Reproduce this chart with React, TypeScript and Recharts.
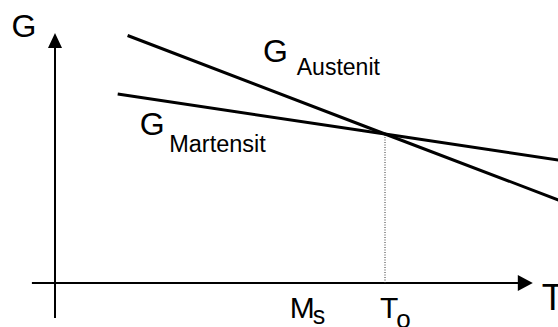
import React from "react";
import { LineChart, Line, XAxis, YAxis, ReferenceLine, ReferenceDot } from "recharts";

// Schematic: free energy G (arbitrary units) vs temperature T (arbitrary units)
const austenitT = [2.2, 10, 15.3];
const austenitG = [9.9, 5.96, 3.3];
const martensitT = [1.9, 10, 15.3];
const martensitG = [7.56, 5.96, 4.91];
const tickValues = [7.45, 10]; // Ms, To
const tickMain = ["M", "T"];
const tickSub = ["s", "o"];
const seriesNames = ["Austenit", "Martensit"];
const axisNames = ["G", "T"];

const austenitData = austenitT.map((t, i) => ({ t, g: austenitG[i] }));
const martensitData = martensitT.map((t, i) => ({ t, g: martensitG[i] }));

const FONT = "'Liberation Sans', Arial, sans-serif";

const X_DOMAIN: [number, number] = [-55 / 33, 503 / 33];
const Y_DOMAIN: [number, number] = [-44 / 25, 283 / 25];

function textMark(
  key: string,
  x: number,
  y: number,
  dx: number,
  dy: number,
  render: (px: number, py: number) => React.ReactNode
) {
  return (
    <ReferenceDot
      key={key}
      x={x}
      y={y}
      r={0}
      ifOverflow="visible"
      isFront
      shape={(p: any) => <g>{render(p.cx + dx, p.cy + dy)}</g>}
    />
  );
}

export default function App() {
  return (
    <div style={{ position: "absolute", left: 0, top: 0, width: 558, height: 327, background: "#fff" }}>
      <LineChart width={558} height={327} margin={{ top: 0, right: 0, bottom: 0, left: 0 }}>
        <XAxis type="number" dataKey="t" domain={X_DOMAIN} allowDataOverflow hide />
        <YAxis type="number" dataKey="g" domain={Y_DOMAIN} allowDataOverflow hide />

        {/* axes */}
        <ReferenceLine
          segment={[{ x: 0, y: -1.4 }, { x: 0, y: 9.4 }]}
          stroke="#000"
          strokeWidth={2}
          ifOverflow="visible"
        />
        <ReferenceLine
          segment={[{ x: -0.7, y: 0 }, { x: 14.03, y: 0 }]}
          stroke="#000"
          strokeWidth={2}
          ifOverflow="visible"
        />
        <ReferenceDot
          x={0}
          y={10}
          r={0}
          ifOverflow="visible"
          shape={(p: any) => (
            <polygon
              points={`${p.cx},${p.cy} ${p.cx - 7},${p.cy + 15} ${p.cx + 7},${p.cy + 15}`}
              fill="#000"
            />
          )}
        />
        <ReferenceDot
          x={14.48}
          y={0}
          r={0}
          ifOverflow="visible"
          shape={(p: any) => (
            <polygon
              points={`${p.cx},${p.cy} ${p.cx - 15},${p.cy - 8} ${p.cx - 15},${p.cy + 8}`}
              fill="#000"
            />
          )}
        />

        {/* To dotted line */}
        <ReferenceLine
          segment={[{ x: tickValues[1], y: 0 }, { x: tickValues[1], y: austenitG[1] }]}
          stroke="#333"
          strokeWidth={1}
          strokeDasharray="1 1.5"
          ifOverflow="visible"
        />

        <Line
          data={austenitData}
          dataKey="g"
          name={seriesNames[0]}
          type="linear"
          stroke="#000"
          strokeWidth={3}
          dot={false}
          activeDot={false}
          isAnimationActive={false}
        />
        <Line
          data={martensitData}
          dataKey="g"
          name={seriesNames[1]}
          type="linear"
          stroke="#000"
          strokeWidth={3}
          dot={false}
          activeDot={false}
          isAnimationActive={false}
        />

        {/* axis names */}
        {textMark("gAxis", 0, 10, -43.5, 3.5, (x, y) => (
          <text x={x} y={y} fontFamily={FONT} fontSize={32} fill="#000">
            {axisNames[0]}
          </text>
        ))}
        {textMark("tAxis", 14.48, 0, 9, 27, (x, y) => (
          <text x={x} y={y} fontFamily={FONT} fontSize={36} fill="#000">
            {axisNames[1]}
          </text>
        ))}

        {/* series labels */}
        {textMark("lblA", 6.3, 8.84, 0, 0, (x, y) => (
          <text x={x} y={y} fontFamily={FONT} fill="#000">
            <tspan fontSize={32}>G</tspan>
            <tspan fontSize={23} dx={9} dy={13}>
              {seriesNames[0]}
            </tspan>
          </text>
        ))}
        {textMark("lblM", 2.57, 5.92, 0, 0, (x, y) => (
          <text x={x} y={y} fontFamily={FONT} fill="#000">
            <tspan fontSize={32}>G</tspan>
            <tspan fontSize={23.5} dx={4.5} dy={17}>
              {seriesNames[1]}
            </tspan>
          </text>
        ))}

        {/* tick labels Ms, To */}
        {textMark("tickMs", tickValues[0], 0, -11, 35, (x, y) => (
          <text x={x} y={y} fontFamily={FONT} fill="#000">
            <tspan fontSize={30}>{tickMain[0]}</tspan>
            <tspan fontSize={25} dx={-2} dy={6}>
              {tickSub[0]}
            </tspan>
          </text>
        ))}
        {textMark("tickTo", tickValues[1], 0, -5, 35, (x, y) => (
          <text x={x} y={y} fontFamily={FONT} fill="#000">
            <tspan fontSize={30}>{tickMain[1]}</tspan>
            <tspan fontSize={26} dx={-2} dy={10}>
              {tickSub[1]}
            </tspan>
          </text>
        ))}
      </LineChart>
    </div>
  );
}
